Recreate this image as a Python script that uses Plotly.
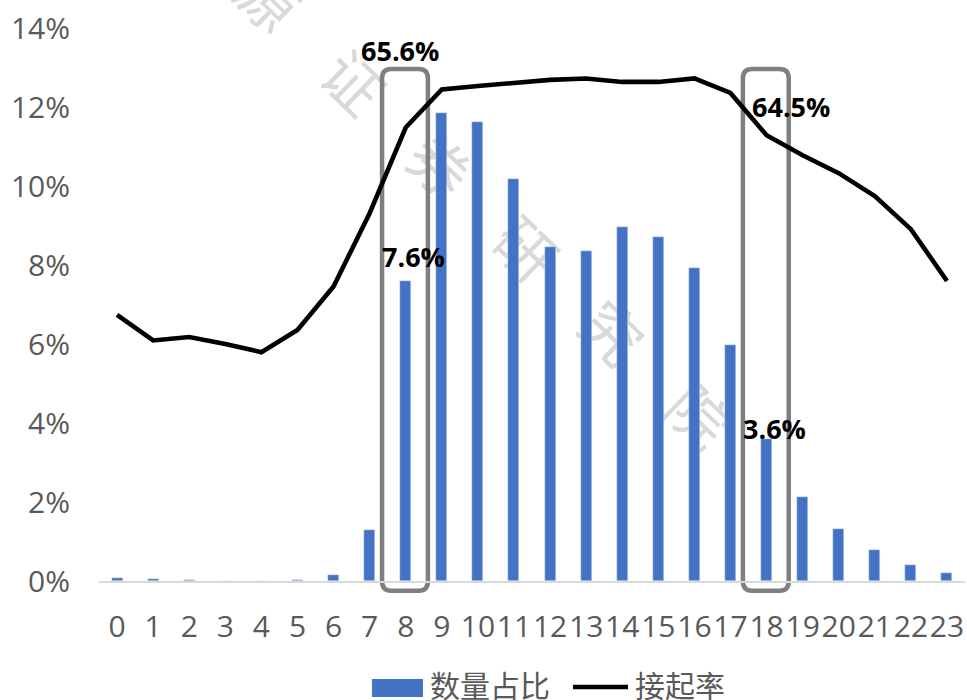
import plotly.graph_objects as go

# Hourly distribution of call volume (share, %) and answer rate (%)
hours = list(range(24))
hour_labels = [str(h) for h in hours]
share_name = "数量占比"
rate_name = "接起率"
share_pct = [0.08, 0.04, 0.02, 0.01, 0.0, 0.02, 0.14, 1.28, 7.6, 11.84, 11.63, 10.19,
             8.46, 8.35, 8.97, 8.70, 7.92, 5.97, 3.6, 2.13, 1.31, 0.78, 0.40, 0.20]
rate_pct = [38.5, 34.8, 35.3, 34.3, 33.1, 36.3, 42.6, 53.2, 65.6, 71.1, 71.6, 72.1,
            72.5, 72.7, 72.2, 72.2, 72.7, 70.6, 64.5, 61.6, 59.0, 55.7, 50.9, 43.4]
y_ticks = list(range(0, 15, 2))
y_tick_labels = [f"{v}%" for v in y_ticks]
highlight_hours = [8, 18]
watermark = "开源证券研究院"

BLUE = "#4472C4"
GREY_TXT = "#595959"
BOX = "#7F7F7F"
NUM_FONT = "Open Sans, Noto Sans CJK SC, sans-serif"
CJK_FONT = "Noto Sans CJK SC, sans-serif"

fig = go.Figure()
fig.add_trace(go.Bar(x=hours, y=share_pct, name=share_name, marker_color=BLUE,
                     width=0.305, yaxis="y", showlegend=False))
fig.add_trace(go.Scatter(x=hours, y=rate_pct, name=rate_name, mode="lines",
                         line=dict(color="black", width=4.6), yaxis="y2",
                         showlegend=False))

shapes = []
# faint diagonal watermark, kept beneath the data
shapes.append(dict(type="line", xref="paper", yref="paper",
                   x0=0.0935, y0=1.192, x1=0.682, y1=0.292,
                   line=dict(color="rgba(0,0,0,0)", width=0), layer="below",
                   label=dict(text="\u3000".join(watermark), textangle=44,
                              textposition="middle", yanchor="middle",
                              font=dict(size=60, color="#D9D9D9", family=CJK_FONT))))

# rounded highlight boxes around the selected hours
def rounded_box(xc, half_w, y_top, y_bot, rx, ry):
    x0, x1 = xc - half_w, xc + half_w
    return (f"M{x0 + rx},{y_top} L{x1 - rx},{y_top} Q{x1},{y_top} {x1},{y_top - ry} "
            f"L{x1},{y_bot + ry} Q{x1},{y_bot} {x1 - rx},{y_bot} "
            f"L{x0 + rx},{y_bot} Q{x0},{y_bot} {x0},{y_bot + ry} "
            f"L{x0},{y_top - ry} Q{x0},{y_top} {x0 + rx},{y_top} Z")

for h in highlight_hours:
    shapes.append(dict(type="path", xref="x", yref="paper",
                       path=rounded_box(h - 0.02, 0.635, 0.926, -0.0175, 0.25, 0.017),
                       line=dict(color=BOX, width=4.5), layer="below"))

# legend drawn beneath the axis
shapes.append(dict(type="rect", xref="paper", yref="paper",
                   x0=0.3152, x1=0.3741, y0=-0.1772, y1=-0.2098,
                   fillcolor=BLUE, line=dict(width=0)))
shapes.append(dict(type="line", xref="paper", yref="paper",
                   x0=0.5473, x1=0.6109, y0=-0.1917, y1=-0.1917,
                   line=dict(color="black", width=4.5)))

annotations = [
    dict(x=0.3799, y=-0.186, xref="paper", yref="paper", text=share_name,
         showarrow=False, xanchor="left", yanchor="middle",
         font=dict(size=30, color=GREY_TXT, family=CJK_FONT)),
    dict(x=0.6166, y=-0.186, xref="paper", yref="paper", text=rate_name,
         showarrow=False, xanchor="left", yanchor="middle",
         font=dict(size=30, color=GREY_TXT, family=CJK_FONT)),
]

lbl_font = dict(size=27, color="black", family=NUM_FONT)
rate_shift = {8: (-6, 77), 18: (24, 29)}
share_shift = {8: (8, 24), 18: (8, 10)}
for h in highlight_hours:
    dx, dy = rate_shift[h]
    annotations.append(dict(x=h, y=rate_pct[h], xref="x", yref="y2",
                            text=f"<b>{rate_pct[h]:.1f}%</b>", showarrow=False,
                            xshift=dx, yshift=dy, yanchor="middle", font=lbl_font))
    dx, dy = share_shift[h]
    annotations.append(dict(x=h, y=share_pct[h], xref="x", yref="y",
                            text=f"<b>{share_pct[h]:.1f}%</b>", showarrow=False,
                            xshift=dx, yshift=dy, yanchor="middle", font=lbl_font))

fig.update_layout(
    width=967, height=700,
    margin=dict(l=99, r=2, t=28, b=119),
    paper_bgcolor="white", plot_bgcolor="white",
    bargap=0.0,
    xaxis=dict(range=[-0.5, 23.5], tickmode="array", tickvals=hours, ticktext=hour_labels,
               tickangle=0, showgrid=False, zeroline=False, showline=True,
               linecolor="#D9D9D9", linewidth=1.5, ticks="", ticklabelstandoff=18,
               tickfont=dict(size=30, color=GREY_TXT, family=NUM_FONT)),
    yaxis=dict(range=[0, 14], tickmode="array", tickvals=y_ticks, ticktext=y_tick_labels,
               showgrid=False, zeroline=False, showline=False,
               ticks="", ticklabelstandoff=28,
               tickfont=dict(size=30, color=GREY_TXT, family=NUM_FONT)),
    yaxis2=dict(range=[0, 80], overlaying="y", side="right", visible=False),
    shapes=shapes,
    annotations=annotations,
    showlegend=False,
)

fig.write_html("out.html")
